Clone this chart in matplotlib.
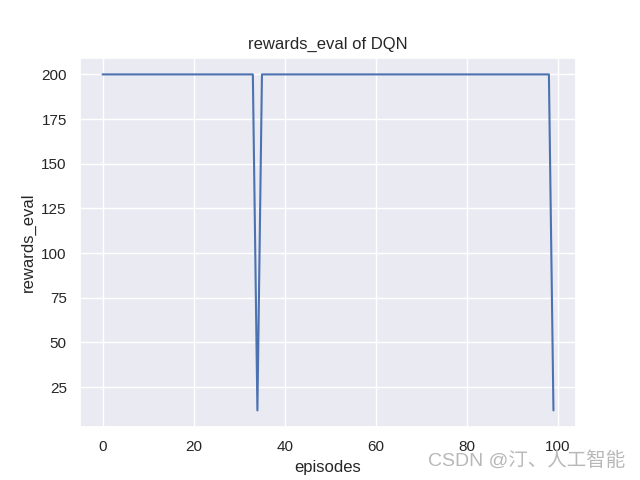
import numpy as np
import matplotlib
matplotlib.use("Agg")
import matplotlib.pyplot as plt
import seaborn as sns

## Evalueringsbelønning per episode
episodes = list(range(100))
rewards_eval = [200.0] * 100
rewards_eval[34] = 12.0
rewards_eval[99] = 12.0

sns.set_theme()
plt.rcParams['font.family'] = ['Liberation Sans', 'DejaVu Sans', 'Noto Sans CJK SC']

fig = plt.figure(figsize=(6.4, 4.8), dpi=100)
plt.title("rewards_eval of DQN")
plt.xlabel("episodes")
plt.ylabel("rewards_eval")
plt.plot(episodes, rewards_eval)

# Vannmerke nede til høyre
fig.text(0.977, 0.04, "CSDN @汀、人工智能", ha="right", va="center",
         fontsize=14, color="#b8b8b8", family=['Liberation Sans', 'Noto Sans CJK SC'])

plt.savefig("out.png")
